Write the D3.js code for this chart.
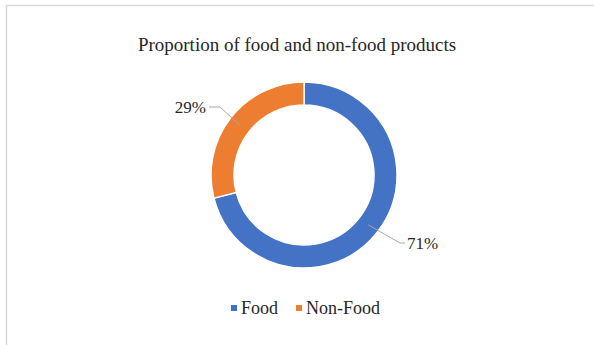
<!DOCTYPE html>
<html>
<head>
  <meta charset="utf-8">
  <title>Proportion of food and non-food products</title>
  <style>
    body {
      margin: 0;
      padding: 0;
      background: #fff;
    }
    text {
      font-family: "Liberation Serif", "Times New Roman", serif;
      fill: #262626;
    }
  </style>
</head>
<body>
  <div id="chart"></div>

  <script src="https://cdnjs.cloudflare.com/ajax/libs/d3/7.8.5/d3.min.js"></script>
  <script>
    // data
    var categories = ["Food", "Non-Food"];
    var shares = [71, 29];
    var colors = ["#4472C4", "#ED7D31"];

    var width = 594,
      height = 345;

    var svg = d3.select("#chart")
      .append("svg")
      .attr("width", width)
      .attr("height", height);

    // chart frame (only top and left visible in the crop)
    svg.append("path")
      .attr("d", "M6.5,345 V5.5 H594")
      .attr("fill", "none")
      .attr("stroke", "#d9d9d9")
      .attr("stroke-width", 1.5);

    svg.append("text")
      .attr("x", 297)
      .attr("y", 51)
      .attr("text-anchor", "middle")
      .style("font-size", "19px")
      .text("Proportion of food and non-food products");

    var cx = 304, cy = 175,
      outer = 93, inner = 70;

    var pie = d3.pie().sort(null).value(function(d) { return d; });
    var arc = d3.arc().innerRadius(inner).outerRadius(outer);
    var mid = d3.arc().innerRadius((inner + outer) / 2).outerRadius((inner + outer) / 2);

    var arcs = pie(shares);

    var g = svg.append("g").attr("transform", "translate(" + cx + "," + cy + ")");

    g.selectAll("path")
      .data(arcs)
      .enter()
      .append("path")
      .attr("d", arc)
      .attr("fill", function(d, i) { return colors[i]; })
      .attr("stroke", "#fff")
      .attr("stroke-width", 1.5);

    // data labels with leader lines
    var labelPos = [
      { elbow: [96, 68], end: [101, 68], anchor: "start", tx: 103 },
      { elbow: [-84, -68], end: [-95, -68], anchor: "end", tx: -98 }
    ];

    arcs.forEach(function(d, i) {
      var p = mid.centroid(d);
      var lp = labelPos[i];
      g.append("polyline")
        .attr("points", [p, lp.elbow, lp.end].map(function(q) { return q.join(","); }).join(" "))
        .attr("fill", "none")
        .attr("stroke", "#a6a6a6")
        .attr("stroke-width", 1);
      g.append("text")
        .attr("x", lp.tx)
        .attr("y", lp.end[1])
        .attr("dy", "0.35em")
        .attr("text-anchor", lp.anchor)
        .style("font-size", "17px")
        .text(shares[i] + "%");
    });

    // legend
    var legendX = [231, 296];
    var legend = svg.append("g");
    categories.forEach(function(c, i) {
      legend.append("rect")
        .attr("x", legendX[i])
        .attr("y", 305)
        .attr("width", 6)
        .attr("height", 6)
        .attr("fill", colors[i]);
      legend.append("text")
        .attr("x", legendX[i] + 10)
        .attr("y", 308)
        .attr("dy", "0.35em")
        .style("font-size", "18px")
        .text(c);
    });
  </script>
</body>
</html>
